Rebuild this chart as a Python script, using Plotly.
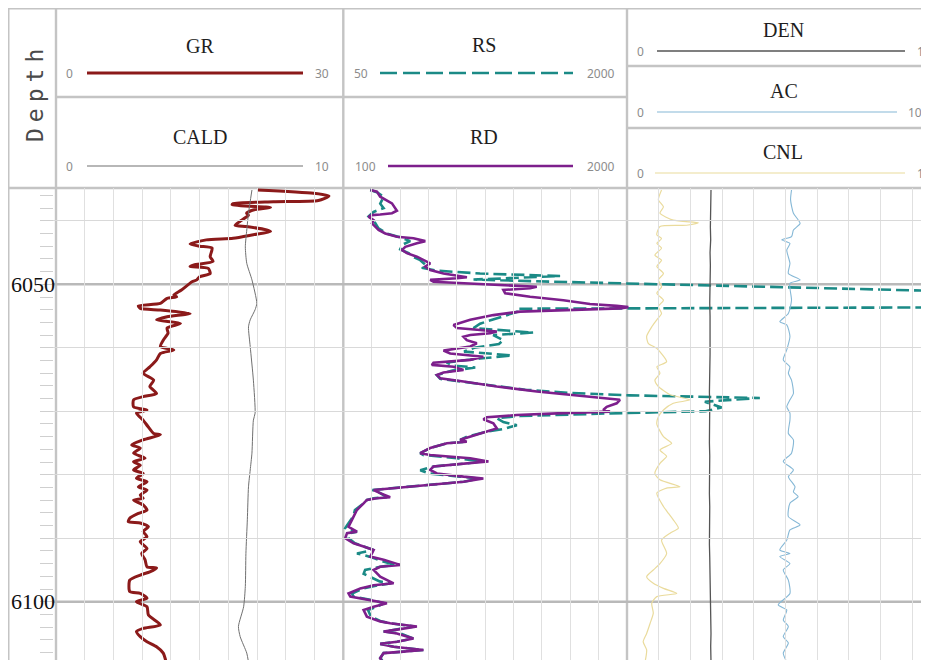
import plotly.graph_objects as go

# ---------------- data ----------------
CURVE_NAMES = ["GR", "CALD", "RS", "RD", "DEN", "AC", "CNL"]
SCALE_MIN = [0, 0, 50, 100, 0, 0, 0]
SCALE_MAX = [30, 10, 2000, 2000, 10, 100, 10]

DEPTH_LABELS = [6050, 6100]
GRID_DEPTHS = [6040, 6060, 6070, 6080, 6090]
MAJOR_DEPTHS = [6050, 6100]

GR_DEPTH = [6035.15, 6035.67, 6036.1, 6036.8, 6037.0, 6037.3, 6037.5, 6037.9, 6038.3, 6038.8,
            6039.1, 6040.1, 6040.7, 6040.9, 6041.45, 6041.7, 6042.2, 6042.75, 6043.0, 6043.65,
            6044.0, 6044.3, 6045.65, 6046.4, 6046.95, 6047.2, 6047.5, 6048.3, 6048.8, 6049.3,
            6049.6, 6050.9, 6051.7, 6052.0, 6052.2, 6053.0, 6053.4, 6053.8, 6054.05, 6054.6,
            6055.1, 6055.6, 6056.15, 6056.9, 6057.7, 6058.8, 6059.8, 6060.35, 6060.9, 6061.9,
            6063.0, 6064.0, 6065.1, 6066.1, 6067.2, 6067.7, 6068.2, 6069.3, 6069.8, 6070.3,
            6071.4, 6072.4, 6073.5, 6073.7, 6074.5, 6075.3, 6075.8, 6076.6, 6077.4, 6077.95,
            6078.5, 6079.25, 6079.8, 6080.55, 6081.1, 6081.9, 6082.4, 6083.2, 6083.7, 6084.0,
            6084.75, 6085.55, 6086.1, 6086.85, 6087.4, 6087.6, 6088.2, 6088.95, 6089.75, 6090.55,
            6091.6, 6092.4, 6093.4, 6094.5, 6094.7, 6095.3, 6095.8, 6096.6, 6098.4, 6098.7,
            6099.45, 6100.0, 6100.8, 6102.1, 6103.65, 6104.2, 6104.7, 6105.5, 6106.3, 6107.1,
            6108.1, 6109.5]
GR = [21.0, 26.9, 28.5, 27.4, 22.7, 18.5, 18.4, 22.4, 20.6, 19.9,
      20.1, 19.2, 18.7, 19.9, 22.0, 22.4, 20.6, 18.5, 15.7, 14.0,
      15.0, 16.3, 16.1, 16.4, 14.4, 14.0, 15.9, 16.1, 15.0, 14.7,
      14.2, 13.1, 12.3, 12.6, 11.6, 10.9, 8.6, 8.8, 10.9, 14.0,
      11.6, 10.5, 13.0, 11.6, 11.7, 11.2, 10.9, 12.3, 10.9, 10.5,
      9.8, 9.1, 10.2, 9.8, 10.5, 9.1, 8.1, 8.1, 9.5, 8.4,
      9.1, 9.6, 10.2, 10.9, 9.1, 7.9, 8.8, 8.1, 9.3, 8.1,
      8.8, 8.1, 9.1, 8.4, 9.5, 8.6, 9.5, 8.8, 9.1, 8.1,
      9.1, 9.5, 8.6, 7.7, 7.55, 8.8, 9.65, 9.1, 9.5, 8.8,
      9.5, 8.95, 9.3, 9.5, 10.5, 9.8, 8.8, 7.7, 7.7, 8.8,
      9.5, 8.4, 9.5, 9.65, 10.9, 9.1, 8.4, 8.8, 9.5, 10.5,
      11.2, 11.5]

CALD_DEPTH = [6035.15, 6038.8, 6041.45, 6044.1, 6046.7, 6049.3, 6053.0, 6054.0, 6055.6, 6056.7,
              6059.8, 6065.1, 6070.3, 6071.4, 6076.6, 6079.25, 6081.9, 6087.1, 6092.4, 6097.6,
              6100.8, 6103.9, 6105.5, 6108.1, 6109.5]
CALD = [6.82, 6.70, 6.64, 6.59, 6.64, 6.82, 6.99, 6.93, 6.76, 6.70,
        6.76, 6.87, 6.93, 6.87, 6.82, 6.76, 6.70, 6.66, 6.61, 6.59,
        6.53, 6.35, 6.41, 6.64, 6.70]

RS_DEPTH = [6035.15, 6035.5, 6036.2, 6037.3, 6038.0, 6038.6, 6039.3, 6039.9, 6041.2, 6042.0,
            6042.6, 6043.2, 6043.8, 6044.5, 6045.1, 6045.7, 6046.2, 6046.9, 6047.4, 6047.85,
            6048.3, 6048.7, 6049.0, 6049.25, 6049.5, 6051.3, 6053.5,
            6053.85, 6054.3, 6055.0, 6055.8, 6056.2, 6056.9, 6057.3, 6057.6, 6058.0, 6058.8,
            6059.4, 6060.0, 6060.6, 6061.2, 6061.7, 6062.3, 6062.8, 6063.1, 6063.6, 6064.3,
            6064.9, 6065.4, 6066.1, 6066.6, 6067.1, 6067.5, 6067.9, 6068.5, 6069.4, 6070.0,
            6070.35, 6070.75, 6071.1, 6071.7, 6072.2, 6072.8, 6073.2, 6074.0, 6074.5, 6074.8,
            6075.05, 6075.8, 6076.6, 6076.9, 6077.4, 6077.9, 6078.2, 6078.7, 6079.3, 6079.8,
            6080.3, 6080.6, 6081.1, 6081.6, 6082.1, 6082.4, 6082.9, 6083.55, 6083.7, 6083.97,
            6084.5, 6085.0, 6085.55, 6086.5, 6087.1, 6088.0, 6088.4, 6088.96, 6089.2, 6090.0,
            6090.8, 6091.3, 6091.85, 6092.4, 6092.9, 6093.4, 6094.2, 6094.5, 6095.0, 6095.6,
            6096.05, 6096.8, 6097.1, 6097.4, 6097.9, 6098.7, 6099.2, 6099.7, 6100.25, 6100.8,
            6101.3, 6102.35, 6103.1, 6103.4, 6103.9, 6104.4, 6104.7, 6105.0, 6105.8, 6106.3,
            6106.65, 6107.1, 6107.6, 6107.9, 6108.1, 6108.9, 6109.5]
RS = [235, 281, 327, 304, 327, 258, 224, 258, 292, 350,
      441, 510, 453, 441, 499, 533, 579, 613, 590, 693,
      990, 1540, 1219, 945, 1334, 4600, 6000,
      1243, 1250, 1150, 1030, 990, 945, 1150, 1355, 1080, 1150,
      1120, 950, 880, 1210, 990, 760, 800, 957, 800, 693,
      716, 900, 1150, 1300, 1600, 2020, 2913, 2535, 2650, 2540,
      1863, 1265, 1107, 1150, 1243, 1150, 1037, 900, 853, 899,
      762, 647, 579, 600, 830, 1000, 900, 670, 579, 640,
      850, 980, 880, 650, 419, 250, 304, 350, 258, 213,
      190, 160, 130, 120, 100, 75, 64, 144, 98, 87,
      130, 190, 258, 144, 230, 290, 400, 304, 200, 190,
      230, 300, 380, 290, 190, 110, 120, 235, 330, 280,
      220, 240, 310, 373, 540, 419, 327, 441, 530, 420,
      304, 396, 601, 441, 327, 304, 330]

RD_DEPTH = [6035.15, 6035.4, 6036.2, 6037.25, 6038.4, 6038.8, 6039.0, 6039.1, 6039.35, 6039.9,
            6040.4, 6041.45, 6042.0, 6042.5, 6042.75, 6043.2, 6043.55, 6043.8, 6044.1, 6044.6,
            6045.1, 6045.65, 6046.2, 6046.7, 6047.2, 6047.75, 6048.3, 6048.7, 6048.9, 6049.05,
            6049.3, 6049.6, 6049.85, 6050.1, 6050.4, 6050.6, 6050.9, 6051.4, 6051.95, 6052.5,
            6053.1, 6053.4, 6053.6, 6053.8, 6054.05, 6054.3, 6054.85, 6055.6, 6056.4, 6056.9,
            6057.2, 6057.45, 6057.7, 6058.0, 6058.25, 6058.8, 6059.3, 6059.8, 6060.1, 6060.45,
            6060.9, 6061.4, 6061.9, 6062.2, 6062.35, 6062.7, 6063.0, 6063.5, 6063.9, 6064.3,
            6064.8, 6065.3, 6066.1, 6066.9, 6067.6, 6068.2, 6068.75, 6069.3, 6069.8, 6070.06,
            6070.3, 6070.6, 6070.95, 6071.26, 6071.9, 6072.7, 6073.2, 6074.0, 6074.5, 6074.8,
            6075.05, 6075.8, 6076.6, 6076.9, 6077.4, 6077.9, 6078.2, 6078.7, 6079.25, 6079.8,
            6080.3, 6080.6, 6081.1, 6081.6, 6082.1, 6082.4, 6082.9, 6083.55, 6083.7, 6083.97,
            6084.5, 6085.55, 6087.1, 6088.2, 6088.96, 6089.2, 6090.0, 6090.8, 6091.3, 6091.85,
            6092.9, 6093.4, 6094.2, 6094.5, 6095.0, 6096.05, 6097.1, 6097.4, 6097.9, 6098.7,
            6099.2, 6099.7, 6100.25, 6100.8, 6101.3, 6102.35, 6103.1, 6103.4, 6103.9, 6104.4,
            6104.7, 6105.0, 6105.8, 6106.3, 6106.65, 6107.1, 6107.6, 6107.9, 6108.1, 6108.9,
            6109.5]
RD = [281, 325, 347, 426, 459, 426, 347, 292, 269, 303,
      292, 336, 381, 459, 570, 649, 593, 548, 515, 493,
      526, 593, 637, 682, 649, 682, 771, 861, 928, 861,
      682, 704, 905, 1128, 1396, 1351, 1172, 1184, 1351, 1574,
      1752, 1931, 2009, 1953, 1574, 1284, 1105, 950, 838, 861,
      1016, 1128, 1083, 950, 905, 927, 994, 950, 861, 771,
      816, 1038, 950, 816, 704, 693, 838, 905, 771, 727,
      749, 905, 1128, 1396, 1708, 1953, 1931, 1864, 1841, 1886,
      1574, 1262, 1061, 1038, 1105, 1128, 1061, 950, 883, 927,
      794, 682, 615, 682, 950, 1072, 950, 704, 682, 727,
      905, 1038, 905, 682, 459, 303, 347, 414, 325, 258,
      236, 191, 158, 135, 191, 125, 113, 169, 236, 303,
      281, 370, 481, 347, 303, 347, 437, 303, 214, 135,
      147, 258, 392, 303, 236, 258, 347, 414, 593, 459,
      370, 459, 570, 459, 347, 437, 637, 481, 370, 347,
      360]

DEN_DEPTH = [6035.15, 6037, 6039, 6041, 6043, 6045, 6047, 6049, 6051, 6053,
             6055, 6057, 6059, 6061, 6063, 6065, 6067, 6069, 6071, 6073,
             6075, 6077, 6079, 6081, 6083, 6085, 6087, 6089, 6091, 6093,
             6095, 6097, 6099, 6101, 6103, 6105, 6107, 6109.5]
DEN = [2.65, 2.64, 2.65, 2.63, 2.64, 2.62, 2.63, 2.62, 2.63, 2.61,
       2.62, 2.61, 2.62, 2.62, 2.61, 2.62, 2.60, 2.61, 2.60, 2.61,
       2.60, 2.61, 2.60, 2.61, 2.60, 2.61, 2.60, 2.61, 2.60, 2.61,
       2.62, 2.63, 2.64, 2.63, 2.64, 2.65, 2.64, 2.65]

AC_DEPTH = [6035.15, 6036.7, 6038.8, 6040.4, 6041.45, 6042.5, 6043.0, 6043.55, 6044.6, 6046.7,
            6048.3, 6049.3, 6049.85, 6052.5, 6054.6, 6055.9, 6056.4, 6058.2, 6060.3, 6061.9,
            6063.0, 6064.0, 6065.1, 6067.2, 6068.2, 6069.3, 6070.3, 6071.4, 6073.5, 6074.5,
            6076.6, 6077.9, 6079.25, 6080.3, 6081.9, 6082.7, 6083.45, 6084.5, 6086.6, 6087.9,
            6088.7, 6090.3, 6091.85, 6092.4, 6092.9, 6094.0, 6095.0, 6096.6, 6098.7, 6100.5,
            6101.3, 6102.9, 6103.9, 6105.5, 6106.5, 6108.1, 6109.5]
AC = [51.9, 51.6, 52.5, 54.6, 52.5, 51.9, 48.8, 51.4, 50.4, 51.4,
      50.9, 54.6, 51.4, 51.9, 50.9, 48.2, 50.4, 51.4, 50.4, 49.3,
      51.4, 50.9, 51.9, 52.5, 51.4, 50.4, 51.4, 51.4, 50.9, 52.5,
      51.9, 49.3, 52.5, 50.9, 53.0, 52.5, 54.0, 51.4, 50.9, 54.6,
      51.4, 50.4, 48.2, 51.4, 48.2, 51.4, 49.3, 50.9, 51.4, 47.7,
      50.4, 49.3, 50.9, 49.3, 50.9, 49.3, 50.4]

CNL_DEPTH = [6035.15, 6036.7, 6037.8, 6038.8, 6039.9, 6040.3, 6040.7, 6040.9, 6042.2, 6042.8,
             6043.55, 6044.3, 6045.4, 6046.2, 6047.2, 6048.3, 6049.3, 6050.4, 6051.4, 6052.5,
             6053.5, 6054.6, 6055.6, 6056.7, 6058.2, 6059.3, 6060.1, 6062.2, 6063.0, 6064.0,
             6065.1, 6066.1, 6067.4, 6068.2, 6068.75, 6069.8, 6070.85, 6072.0, 6074.0, 6075.05,
             6076.1, 6077.1, 6078.2, 6079.8, 6080.8, 6081.9, 6082.1, 6082.9, 6085.0, 6086.1,
             6087.1, 6088.4, 6089.2, 6090.3, 6092.4, 6094.0, 6095.0, 6096.05, 6097.1, 6097.9,
             6098.7, 6099.2, 6100.25, 6101.8, 6103.4, 6105.0, 6106.3, 6107.6, 6109.5]
CNL = [1.09, 0.99, 1.15, 1.04, 1.46, 2.25, 1.88, 1.04, 0.94, 1.09,
       0.94, 1.09, 0.88, 1.09, 0.94, 1.15, 0.99, 1.09, 0.94, 1.15,
       0.99, 1.09, 0.94, 0.78, 0.62, 0.67, 0.94, 1.25, 0.94, 1.04,
       0.88, 0.99, 1.36, 1.99, 1.46, 1.15, 0.99, 0.94, 1.15, 1.41,
       1.04, 1.25, 1.04, 0.88, 1.04, 1.67, 1.25, 0.94, 1.15, 1.31,
       1.46, 1.62, 1.36, 1.09, 1.25, 1.04, 0.83, 0.62, 0.83, 1.15,
       1.57, 0.94, 0.78, 0.83, 0.73, 0.62, 0.51, 0.62, 0.57]

# ---------------- layout geometry (screen pixels) ----------------
OX, OY = 8, 8           # page offset of the figure
FW, FH = 940, 680        # figure size (extends past the visible window)
T1, T2, T3, T3END = 56, 343.3, 627, 944
DATA_TOP = 188
Y6050, Y6100 = 284.3, 601.7
M_PER_PX = (MAJOR_DEPTHS[1] - MAJOR_DEPTHS[0]) / (Y6100 - Y6050)
D_TOP = MAJOR_DEPTHS[0] - (Y6050 - DATA_TOP) * M_PER_PX
D_BOT = MAJOR_DEPTHS[0] + (OY + FH - Y6050) * M_PER_PX


def PX(sx):
    return (sx - OX) / FW


def PY(sy):
    return 1 - (sy - OY) / FH


RIGHT = OX + FW

GRID_C = "#e0e0e0"
FRAME_C = "#c4c4c4"

COLORS = ["#8b1a1a", "#707070", "#1b8a86", "#7d1f8c", "#555555", "#86b8d6", "#eadb9c"]
WIDTHS = [3, 1, 2.6, 2.6, 1.3, 1.1, 1.2]
DASHES = ["solid", "solid", "13px,5px", "solid", "solid", "solid", "solid"]
SHAPES = ["spline", "spline", "linear", "linear", "linear", "spline", "spline"]

fig = go.Figure()


def ext_range(lo, hi, track_px, axis_px):
    return [lo, lo + (hi - lo) * axis_px / track_px]


axes = {}
axes["xaxis"] = dict(domain=[PX(T1), PX(T2)], range=[SCALE_MIN[0], SCALE_MAX[0]])
axes["xaxis2"] = dict(domain=[PX(T1), PX(T2)], range=[SCALE_MIN[1], SCALE_MAX[1]])
axes["xaxis3"] = dict(domain=[PX(T2), 1], range=ext_range(SCALE_MIN[2], SCALE_MAX[2], T3 - T2, RIGHT - T2))
axes["xaxis4"] = dict(domain=[PX(T2), 1], range=ext_range(SCALE_MIN[3], SCALE_MAX[3], T3 - T2, RIGHT - T2))
for i, k in zip([4, 5, 6], ["xaxis5", "xaxis6", "xaxis7"]):
    axes[k] = dict(domain=[PX(T3), 1], range=ext_range(SCALE_MIN[i], SCALE_MAX[i], T3END - T3, RIGHT - T3))
for k in ["xaxis", "xaxis2", "xaxis3", "xaxis4", "xaxis5", "xaxis6", "xaxis7"]:
    axes[k].update(anchor="y", visible=False)
axes["xaxis8"] = dict(domain=[PX(40), 1], range=[0, 1], anchor="y", visible=False)
for k, (a, b) in zip(["xaxis9", "xaxis10", "xaxis11"], [(T1, T2), (T2, T3), (T3, T3END)]):
    span = RIGHT - a if b > RIGHT else b - a
    axes[k] = dict(domain=[PX(a), PX(min(b, RIGHT))], range=[0, 10 * span / (b - a)], anchor="y",
                   showgrid=True, gridcolor=GRID_C, gridwidth=1.4, tickmode="array",
                   tickvals=[1, 2, 3, 4, 5, 6, 7, 8, 9], showticklabels=False, ticks="",
                   showline=False, zeroline=False)

fig.update_layout(**axes)

fig.update_layout(
    yaxis=dict(domain=[0, PY(DATA_TOP)], range=[D_BOT, D_TOP], anchor="x8",
               showgrid=True, gridcolor="#d9d9d9", gridwidth=1.4, tickmode="array",
               tickvals=GRID_DEPTHS, showticklabels=False, ticks="", showline=False, zeroline=False,
               minor=dict(dtick=2, tick0=6000, ticks="inside", ticklen=13, tickcolor="#cfcfcf",
                          tickwidth=1, showgrid=False)),
    yaxis2=dict(overlaying="y", anchor="free", position=PX(55), side="left",
                range=[D_BOT, D_TOP], tickmode="array", tickvals=DEPTH_LABELS,
                ticktext=[str(v) for v in DEPTH_LABELS], ticks="", showgrid=False,
                showline=False, zeroline=False,
                tickfont=dict(family="Liberation Serif", size=22, color="#111111")),
)

for xa in ["x8", "x9", "x10", "x11"]:
    fig.add_trace(go.Scatter(x=[None], y=[None], xaxis=xa, yaxis="y", mode="lines",
                             hoverinfo="skip", showlegend=False))
fig.add_trace(go.Scatter(x=[None], y=[None], xaxis="x8", yaxis="y2", mode="lines",
                         hoverinfo="skip", showlegend=False))

CURVE_DATA = [(GR, GR_DEPTH, "x"), (CALD, CALD_DEPTH, "x2"), (RS, RS_DEPTH, "x3"),
              (RD, RD_DEPTH, "x4"), (DEN, DEN_DEPTH, "x5"), (AC, AC_DEPTH, "x6"),
              (CNL, CNL_DEPTH, "x7")]
DRAW_ORDER = [1, 0, 2, 3, 6, 4, 5]
for i in DRAW_ORDER:
    vals, dep, xa = CURVE_DATA[i]
    line = dict(color=COLORS[i], width=WIDTHS[i], dash=DASHES[i], shape=SHAPES[i])
    if SHAPES[i] == "spline":
        line["smoothing"] = 0.6
    fig.add_trace(go.Scatter(x=vals, y=dep, xaxis=xa, yaxis="y", mode="lines", name=CURVE_NAMES[i],
                             line=line, hoverinfo="skip", showlegend=False))

shapes = []


def pline(x0, y0, x1, y1, color, width, dash="solid", layer="below"):
    shapes.append(dict(type="line", xref="paper", yref="paper", x0=PX(x0), y0=PY(y0),
                       x1=PX(x1), y1=PY(y1), line=dict(color=color, width=width, dash=dash),
                       layer=layer))


pline(OX, OY + 0.5, RIGHT, OY + 0.5, FRAME_C, 2)
pline(OX + 0.5, OY, OX + 0.5, OY + FH, FRAME_C, 2)
for xv in [T1, T2, T3]:
    pline(xv, OY, xv, OY + FH, FRAME_C, 2.4)
pline(OX, DATA_TOP, RIGHT, DATA_TOP, FRAME_C, 2.4)
pline(T1, 97, T3, 97, FRAME_C, 2.4)
pline(T3, 66, RIGHT, 66, FRAME_C, 2.4)
pline(T3, 128, RIGHT, 128, FRAME_C, 2.4)

for d in MAJOR_DEPTHS:
    shapes.append(dict(type="line", xref="paper", yref="y", x0=PX(52), x1=1, y0=d, y1=d,
                       line=dict(color="#b9b9b9", width=2.4), layer="below"))

HEADER = [
    (200, 46, 87, 303, 73, 69, 313, "left"),
    (200, 137, 87, 303, 166, 69, 313, "left"),
    (484, 45, 380, 573, 73, 360.5, 585, "left"),
    (484, 137, 388, 573, 166, 365, 585, "left"),
    (783, 30, 657, 905, 51, 640, 915, "left"),
    (784, 91, 657, 897, 112, 640, 906, "left"),
    (783, 152, 655, 905, 173, 640, 915, "left"),
]
annotations = []
for i, (tx, ty, lx0, lx1, ly, mnx, mxx, anc) in enumerate(HEADER):
    pline(lx0, ly, lx1, ly, COLORS[i], WIDTHS[i] if i != 1 else 1.1,
          DASHES[i].replace("13px,5px", "17px,6px"), layer="above")
    annotations.append(dict(x=PX(tx), y=PY(ty), xref="paper", yref="paper", text=CURVE_NAMES[i],
                            showarrow=False, xanchor="center", yanchor="middle",
                            font=dict(family="Liberation Serif", size=20, color="#1e1e1e")))
    annotations.append(dict(x=PX(mnx), y=PY(ly), xref="paper", yref="paper", text=str(SCALE_MIN[i]),
                            showarrow=False, xanchor="center", yanchor="middle",
                            font=dict(family="Noto Sans", size=12, color="#8c8c8c")))
    annotations.append(dict(x=PX(mxx), y=PY(ly), xref="paper", yref="paper", text=str(SCALE_MAX[i]),
                            showarrow=False, xanchor=anc, yanchor="middle",
                            font=dict(family="Noto Sans", size=12, color="#8c8c8c")))

annotations.append(dict(x=PX(35), y=PY(93), xref="paper", yref="paper",
                        text='<span style="letter-spacing:6px">Depth</span>', textangle=-90,
                        showarrow=False, xanchor="center", yanchor="middle",
                        font=dict(family="DejaVu Sans Mono", size=23, color="#4a4a4a")))

fig.update_layout(
    width=FW, height=FH, margin=dict(l=0, r=0, t=0, b=0),
    paper_bgcolor="white", plot_bgcolor="rgba(0,0,0,0)", showlegend=False,
    shapes=shapes, annotations=annotations,
)

fig.write_html("out.html")
